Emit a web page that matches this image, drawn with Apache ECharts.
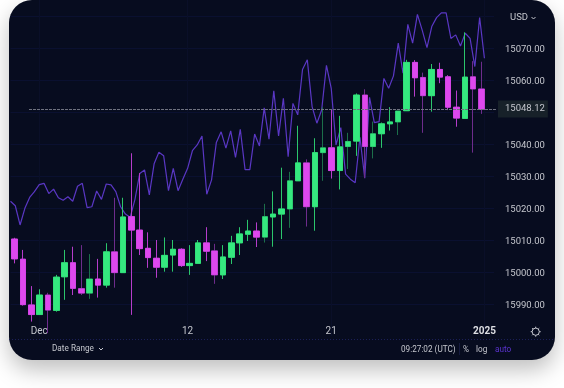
<!DOCTYPE html>
<html>
<head>
<meta charset="utf-8">
<style>html,body{margin:0;padding:0;background:#fff}#c{width:564px;height:388px}</style>
<script src="https://cdn.jsdelivr.net/npm/echarts@6/dist/echarts.min.js"></script>
</head>
<body>
<div id="c"></div>
<script>
const opens  = [15010.3,15004.0,14989.7,14986.7,14992.8,14988.0,14998.5,15002.9,14994.8,14993.4,14997.8,14995.9,15006.3,14999.8,15017.3,15013.1,15007.4,15004.3,15001.5,15005.3,15007.1,15002.0,15002.7,15009.1,15006.6,14999.1,15004.6,15009.1,15011.8,15012.8,15010.9,15017.2,15018.1,15019.7,15028.5,15034.1,15020.4,15037.3,15038.8,15031.7,15039.2,15040.9,15055.3,15039.2,15043.2,15046.3,15046.9,15050.4,15065.5,15060.8,15055.1,15063.3,15061.0,15051.5,15048.0,15061.0,15057.2];
const closes = [15004.1,14989.8,14986.7,14992.8,14988.1,14998.4,15002.9,14994.9,14993.4,14997.8,14995.9,15006.3,14999.8,15017.2,15013.1,15007.3,15004.5,15001.5,15005.2,15007.1,15002.0,15002.7,15009.1,15006.5,14999.1,15004.7,15009.1,15011.9,15012.8,15010.9,15017.3,15018.1,15019.7,15028.5,15034.1,15020.4,15037.3,15038.8,15031.7,15039.1,15040.8,15055.3,15039.2,15043.2,15046.3,15046.9,15050.3,15065.5,15060.7,15055.1,15063.3,15060.9,15051.5,15048.1,15060.9,15057.2,15050.8];
const lows   = [15002.7,14989.5,14984.5,14986.7,14980.9,14987.6,14991.3,14992.8,14992.8,14991.6,14992.0,14995.1,14995.1,14999.8,14986.6,15005.3,15001.3,14998.2,15000.1,15000.1,15001.6,14999.1,15002.7,15003.4,14996.3,14997.8,15002.5,15005.3,15009.7,15007.8,15009.2,15007.9,15010.3,15013.8,15028.5,15014.2,15012.9,15028.5,15029.2,15025.8,15032.2,15036.3,15029.4,15035.5,15038.8,15044.2,15042.8,15050.4,15054.8,15043.5,15050.1,15059.0,15050.6,15045.4,15048.0,15037.3,15049.4];
const highs  = [15010.7,15006.9,14995.6,14994.6,14993.5,14999.1,15006.9,15007.9,15008.4,15005.6,15004.1,15009.0,15023.2,15023.2,15037.1,15030.9,15012.4,15010.0,15010.8,15010.0,15007.4,15008.4,15010.0,15014.0,15008.8,15008.4,15011.3,15014.0,15016.3,15015.5,15021.3,15025.2,15032.6,15031.3,15045.7,15035.2,15041.8,15051.5,15050.8,15048.8,15043.5,15055.8,15057.1,15047.0,15046.7,15051.5,15050.3,15066.3,15066.2,15062.3,15065.0,15065.4,15061.5,15056.7,15074.9,15065.9,15065.7];
const dimWicks = [4,8,9,12,24,30,33,35,37,40,42,43,46,49,55,56];
const lineValues = [15022.1,15020.7,15014.7,15019.9,15023.3,15025.1,15027.3,15027.7,15024.5,15025.9,15023.2,15022.4,15023.5,15022.1,15026.8,15027.7,15020.1,15020.4,15025.3,15022.7,15027.5,15027.2,15025.1,15020.4,15018.1,15017.1,15022.7,15030.8,15031.9,15024.1,15033.8,15037.4,15036.3,15025.4,15032.4,15025.4,15029.0,15032.4,15037.9,15039.7,15042.5,15024.3,15028.8,15040.5,15043.8,15038.7,15044.1,15035.8,15044.6,15032.0,15032.0,15043.1,15039.4,15051.3,15041.5,15056.6,15042.5,15054.3,15036.0,15052.7,15049.1,15063.3,15066.3,15051.7,15046.5,15050.6,15064.6,15057.4,15039.7,15045.1,15030.6,15029.0,15027.9,15042.1,15029.3,15054.6,15046.7,15047.0,15060.5,15057.4,15061.3,15071.5,15062.1,15077.4,15071.5,15080.5,15075.6,15070.1,15076.7,15079.5,15081.0,15081.0,15073.0,15074.1,15070.6,15074.6,15073.0,15064.2,15079.5,15066.8];
const timeTickSlots = [6,37,67,99];
const timeTickLabels = ['Dec','12','21','2025'];
const hiddenPriceTicks = [14980,15050,15080];
const relabelledTicks = {14990:'15990.00'};
const priceLineLevel = 15050.9;
const priceLineLabel = '15048.12';

const UP='#35E87F', DOWN='#DE48EE', UPW='#2BC66C', DOWNW='#B63CCB', UPD='#1C6F4A', DOWND='#6E2C8C';
const TXT='#C4C6CD', FONT='Roboto, sans-serif', GRIDC='#0A1030';
const candleCats = opens.map((_,i)=>String(i)).concat(['']);
const lineCats = lineValues.map((_,i)=>String(i)).concat(['','']);
const tickAt = i => timeTickSlots.indexOf(i);

const wickData = opens.map((o,i)=>{
  const up = closes[i]>=o, dim = dimWicks.includes(i);
  const col = up ? (dim?UPD:UPW) : (dim?DOWND:DOWNW);
  return {value:[o,closes[i],lows[i],highs[i]], itemStyle:{color:col,color0:col,borderColor:col,borderColor0:col}};
});
const bodyData = opens.map((o,i)=>[o,closes[i],Math.min(o,closes[i]),Math.max(o,closes[i])]);

const sunX=535.7, sunY=331.7;
const sunRays=[0,1,2,3,4,5,6,7].map(k=>{const a=k*Math.PI/4;return {type:'line',z:20,silent:true,
  shape:{x1:sunX+3.6*Math.cos(a),y1:sunY+3.6*Math.sin(a),x2:sunX+5*Math.cos(a),y2:sunY+5*Math.sin(a)},style:{stroke:TXT,lineWidth:1}};});
const label=(text,x,y,size,fill,align)=>({type:'text',x,y,z:20,silent:true,style:{text,fill:fill||TXT,font:`${size}px ${FONT}`,align:align||'left',verticalAlign:'middle'}});
const chev=(x,y)=>({type:'polyline',z:20,silent:true,shape:{points:[[x-2,y-1],[x,y+1],[x+2,y-1]]},style:{stroke:TXT,fill:'none',lineWidth:1}});

const chart = echarts.init(document.getElementById('c'),null,{renderer:'canvas'});
chart.setOption({
  animation:false,
  backgroundColor:'#fff',
  grid:{left:10.5,top:0,width:483.5,height:336},
  graphic:[
    {type:'rect',z:-10,silent:true,shape:{x:9,y:0,width:546,height:360,r:23},style:{fill:'#070C1F',shadowBlur:22,shadowOffsetY:10,shadowColor:'rgba(0,0,0,0.25)'}},
    {type:'line',z:-9,silent:true,shape:{x1:9,y1:339.5,x2:555,y2:339.5},style:{stroke:'#1B1F58',lineWidth:1,lineDash:[1,2]}},
    {type:'line',z:-9,silent:true,shape:{x1:459.5,y1:343,x2:459.5,y2:355},style:{stroke:'#151A3E',lineWidth:1}},
    label('USD',510,18,9.5),chev(533.5,18),
    label('Date Range',52,349,8.2),chev(101,349),
    label('09:27:02 (UTC)',401,349.5,8.2),
    label('%',463,349.5,8.2),
    label('log',476,349.5,8.2),
    label('auto',495,349.5,8.2,'#5B33CF'),
    {type:'circle',z:20,silent:true,shape:{cx:sunX,cy:sunY,r:3.6},style:{stroke:TXT,fill:'none',lineWidth:1}},
    ...sunRays
  ],
  xAxis:[
    {type:'category',data:candleCats,boundaryGap:true,show:false},
    {type:'category',data:lineCats,boundaryGap:false,position:'bottom',
     axisLine:{show:false},axisTick:{show:false},
     axisLabel:{inside:true,margin:0,interval:i=>tickAt(i)>=0,hideOverlap:false,color:TXT,fontSize:10,fontFamily:FONT,
       formatter:(v,i)=>{const k=tickAt(i);if(k<0)return '';return timeTickLabels[k]==='2025'?'{b|2025}':timeTickLabels[k];},
       rich:{b:{fontWeight:'bold',color:'#DDDEE3',fontSize:10,fontFamily:FONT}}},
     splitLine:{show:true,interval:i=>tickAt(i)>=0,lineStyle:{color:'#0A0F28',width:1}}}
  ],
  yAxis:{type:'value',position:'right',min:14980,max:15085,interval:10,scale:true,
    axisLine:{show:false},axisTick:{show:false},
    axisLabel:{margin:11,color:TXT,fontSize:9.5,fontFamily:FONT,verticalAlign:'top',lineHeight:3,showMinLabel:false,showMaxLabel:false,
      formatter:v=>hiddenPriceTicks.includes(v)||v>15080?'':(relabelledTicks[v]||v.toFixed(2))},
    splitLine:{show:true,showMinLine:false,showMaxLine:false,
      lineStyle:{width:1,color:[GRIDC,GRIDC,GRIDC,GRIDC,GRIDC,GRIDC,GRIDC,GRIDC,GRIDC,GRIDC,'transparent','transparent']}}},
  series:[
    {type:'line',name:'Line',xAxisIndex:1,data:lineValues,symbol:'none',z:2,clip:false,
     lineStyle:{color:'#5A37C4',width:1.2}},
    {type:'candlestick',name:'Wicks',xAxisIndex:0,data:wickData,barWidth:6,z:3,clip:false,
     itemStyle:{borderWidth:1}},
    {type:'candlestick',name:'Bodies',xAxisIndex:0,data:bodyData,barWidth:6,z:4,clip:false,
     itemStyle:{color:UP,color0:DOWN,borderColor:UP,borderColor0:DOWN,borderWidth:0.5},
     markLine:{silent:true,symbol:'none',animation:false,
       lineStyle:{color:'#6F7280',type:[3,1],width:1},
       label:{show:true,position:'end',distance:1,formatter:()=>priceLineLabel,color:TXT,fontSize:9.5,fontFamily:FONT,backgroundColor:'#172129',padding:[4,3,3,7]},
       data:[[{x:29,yAxis:priceLineLevel},{x:497,yAxis:priceLineLevel}]]}}
  ]
});
</script>
</body>
</html>
